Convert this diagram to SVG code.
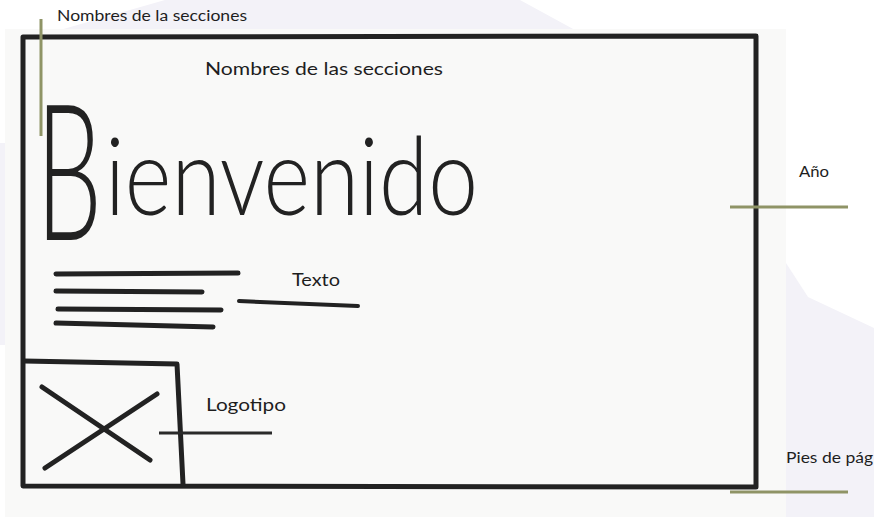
<svg xmlns="http://www.w3.org/2000/svg" width="874" height="517" viewBox="0 0 874 517">
<style>
.lbl{font-family:Lato,"Open Sans","Liberation Sans",sans-serif;fill:#1e1e1e}
.ink{fill:none;stroke:#222;stroke-linecap:round;stroke-linejoin:round}
.con{fill:none;stroke:#8f9466;stroke-width:3}
.hand{font-family:Lato,"Open Sans","Liberation Sans",sans-serif;font-weight:300;fill:#222}
</style>
<rect x="0" y="0" width="874" height="517" fill="#ffffff"/>
<g id="background">
<polygon points="165,0 520,0 575,30 60,30" fill="#f3f2f8"/>
<rect x="0" y="143" width="6" height="202" fill="#f3f2f8"/>
<polygon points="786,263 808,297 874,328 874,517 786,517" fill="#f3f2f8"/>
<rect x="5" y="29" width="781" height="488" fill="#f9f9f8"/>
</g>
<g id="frame">
<path class="ink" d="M23,37 L756,36 L756,487 L23,486 Z" stroke-width="5"/>
</g>
<g id="nav">
<text class="lbl" x="205" y="75" font-size="18" textLength="238" lengthAdjust="spacingAndGlyphs">Nombres de las secciones</text>
</g>
<g id="title">
<text class="hand" transform="translate(36,240) scale(0.55,1)" x="0" y="0" font-size="190">B</text>
<text class="hand" x="105" y="215" font-size="108" textLength="373" lengthAdjust="spacingAndGlyphs">ienvenido</text>
</g>
<g id="text-block">
<path class="ink" stroke-width="5" d="M56,274 L238,273 M56,291 L202,292 M58,309 L221,310 M56,323 L213,327"/>
</g>
<g id="logo">
<path class="ink" stroke-width="5" d="M24,361 L177,364 L183,484"/>
<path class="ink" stroke-width="5" d="M42,387 L150,460 M157,394 L45,468"/>
</g>
<g id="connectors">
<line class="con" x1="41" y1="19" x2="41" y2="136"/>
<line class="con" x1="730" y1="207" x2="848" y2="207"/>
<line class="con" x1="730" y1="492" x2="848" y2="492"/>
<path class="ink" stroke-width="4" d="M239,301 L358,306"/>
<path fill="none" stroke="#2a2a2a" stroke-width="3" d="M159,433 L272,433"/>
</g>
<g id="labels">
<text class="lbl" x="57" y="21" font-size="14.5" textLength="190" lengthAdjust="spacingAndGlyphs">Nombres de la secciones</text>
<text class="lbl" x="292" y="286" font-size="17" textLength="48" lengthAdjust="spacingAndGlyphs">Texto</text>
<text class="lbl" x="206" y="411" font-size="17" textLength="80" lengthAdjust="spacingAndGlyphs">Logotipo</text>
<text class="lbl" x="799" y="177" font-size="15" textLength="30" lengthAdjust="spacingAndGlyphs">Año</text>
<text class="lbl" x="786" y="463" font-size="15" textLength="87" lengthAdjust="spacingAndGlyphs">Pies de pág</text>
</g>
</svg>
